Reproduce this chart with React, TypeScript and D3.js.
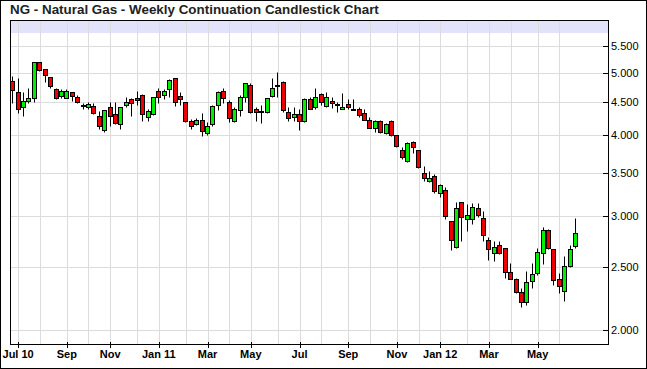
import React from "react";
import * as d3 from "d3";

// weekly bars, first week starts Mon 2010-06-28
const firstWeek = "2010-06-28";

const opens = [
  4.86, 4.66, 4.42, 4.52, 4.56, 5.19, 5.06, 4.92, 4.71, 4.6, 4.57, 4.66, 4.59, 4.44, 4.42,
  4.44, 4.29, 4.08, 4.43, 4.31, 4.17, 4.45, 4.55, 4.56, 4.62, 4.27, 4.31, 4.68, 4.61, 4.71,
  4.9, 4.6, 4.5, 4.21, 4.16, 4.22, 4.03, 4.17, 4.45, 4.68, 4.51, 4.21, 4.38, 4.58, 4.78,
  4.39, 4.35, 4.34, 4.6, 4.79, 4.84, 4.34, 4.27, 4.32, 4.21, 4.55, 4.42, 4.63, 4.44, 4.52,
  4.46, 4.4, 4.47, 4.4, 4.4, 4.33, 4.22, 4.11, 4.21, 4.04, 4.21, 4.0, 3.8, 3.65, 3.9,
  3.79, 3.5, 3.4, 3.46, 3.26, 3.29, 2.95, 2.69, 3.15, 2.97, 2.97, 3.09, 2.98, 2.76, 2.63,
  2.71, 2.68, 2.46, 2.4, 2.29, 2.21, 2.38, 2.45, 2.63, 2.86, 2.67, 2.4, 2.3, 2.51, 2.7,
];
const highs = [
  4.94, 4.9, 4.66, 4.73, 5.2, 5.2, 5.07, 4.93, 4.73, 4.71, 4.71, 4.67, 4.61, 4.48, 4.51,
  4.48, 4.36, 4.38, 4.51, 4.5, 4.43, 4.59, 4.57, 4.69, 4.63, 4.39, 4.58, 4.73, 4.72, 4.88,
  4.91, 4.66, 4.5, 4.24, 4.25, 4.33, 4.2, 4.45, 4.69, 4.73, 4.53, 4.42, 4.61, 4.82, 4.81,
  4.42, 4.45, 4.57, 4.9, 5.01, 4.85, 4.43, 4.43, 4.4, 4.56, 4.58, 4.73, 4.65, 4.67, 4.58,
  4.51, 4.65, 4.55, 4.55, 4.43, 4.39, 4.27, 4.22, 4.22, 4.18, 4.22, 4.01, 3.83, 3.9, 3.92,
  3.8, 3.58, 3.52, 3.49, 3.36, 3.33, 2.95, 3.16, 3.16, 3.13, 3.14, 3.14, 3.05, 2.78, 2.75,
  2.75, 2.68, 2.54, 2.41, 2.32, 2.47, 2.54, 2.68, 2.89, 2.87, 2.67, 2.45, 2.6, 2.71, 2.98,
];
const lows = [
  4.48, 4.33, 4.29, 4.48, 4.51, 5.03, 4.84, 4.74, 4.55, 4.57, 4.56, 4.52, 4.48, 4.39, 4.39,
  4.31, 4.09, 4.05, 4.13, 4.16, 4.09, 4.43, 4.29, 4.45, 4.21, 4.21, 4.3, 4.48, 4.55, 4.59,
  4.44, 4.45, 4.2, 4.09, 4.15, 3.99, 4.0, 4.13, 4.38, 4.48, 4.2, 4.2, 4.28, 4.51, 4.33,
  4.21, 4.18, 4.33, 4.58, 4.58, 4.35, 4.21, 4.21, 4.07, 4.2, 4.39, 4.39, 4.45, 4.43, 4.41,
  4.35, 4.39, 4.4, 4.38, 4.27, 4.22, 4.1, 4.05, 4.03, 4.02, 3.99, 3.83, 3.67, 3.64, 3.76,
  3.56, 3.4, 3.39, 3.26, 3.21, 2.97, 2.66, 2.68, 2.75, 2.85, 2.92, 2.99, 2.75, 2.57, 2.56,
  2.62, 2.41, 2.4, 2.28, 2.17, 2.19, 2.32, 2.43, 2.53, 2.67, 2.35, 2.28, 2.22, 2.5, 2.68,
];
const closes = [
  4.7, 4.4, 4.52, 4.57, 5.19, 5.05, 4.95, 4.76, 4.57, 4.68, 4.68, 4.6, 4.5, 4.45, 4.47,
  4.33, 4.13, 4.37, 4.29, 4.18, 4.42, 4.5, 4.48, 4.54, 4.31, 4.36, 4.58, 4.59, 4.68, 4.87,
  4.51, 4.55, 4.21, 4.13, 4.23, 4.06, 4.13, 4.44, 4.67, 4.56, 4.25, 4.39, 4.58, 4.81, 4.34,
  4.35, 4.36, 4.56, 4.74, 4.79, 4.37, 4.25, 4.31, 4.21, 4.55, 4.4, 4.59, 4.5, 4.58, 4.48,
  4.47, 4.43, 4.42, 4.39, 4.3, 4.23, 4.11, 4.21, 4.05, 4.16, 4.0, 3.85, 3.7, 3.89, 3.83,
  3.57, 3.43, 3.44, 3.28, 3.35, 3.0, 2.76, 3.09, 2.99, 3.01, 3.1, 3.01, 2.8, 2.67, 2.69,
  2.63, 2.46, 2.4, 2.29, 2.21, 2.37, 2.44, 2.64, 2.86, 2.68, 2.39, 2.34, 2.51, 2.67, 2.82,
];

const yTicks = [2, 2.5, 3, 3.5, 4, 4.5, 5, 5.5];
const monthLabels: Record<string, string> = {
  "2010-07": "Jul 10", "2010-09": "Sep", "2010-11": "Nov", "2011-01": "Jan 11",
  "2011-03": "Mar", "2011-05": "May", "2011-07": "Jul", "2011-09": "Sep",
  "2011-11": "Nov", "2012-01": "Jan 12", "2012-03": "Mar", "2012-05": "May",
};

const W = 647;
const H = 369;
const plot = { left: 10, top: 20, right: 608, bottom: 345 };

export default function App() {
  const start = d3.timeParse("%Y-%m-%d")(firstWeek) as Date;
  const weeks = d3.timeMonday.range(start, d3.timeMonday.offset(start, opens.length));

  const x = d3.scaleLinear().domain([-0.5, 110]).range([plot.left, plot.right]);
  const y = d3.scaleLog().domain([1.896, 6.03]).range([plot.bottom, plot.top]);

  // first bar of every month gets a gridline
  const fmt = d3.timeFormat("%Y-%m");
  const months: { i: number; key: string }[] = [];
  weeks.forEach((w, i) => {
    if (i === 0) return;
    if (fmt(w) !== fmt(weeks[i - 1])) months.push({ i, key: fmt(w) });
  });

  const crisp = (v: number) => Math.round(v) + 0.5;

  return (
    <svg
      width={W}
      height={H}
      style={{ position: "absolute", left: 0, top: 0, background: "#fff" }}
      fontFamily="'Liberation Sans', Arial, sans-serif"
    >
      <rect x={0.5} y={0.5} width={W - 1} height={H - 1} fill="#fff" stroke="#000" />
      <text x={10} y={14} fontSize={13.4} fontWeight="bold" fill="#222">
        NG - Natural Gas - Weekly Continuation Candlestick Chart
      </text>

      <rect x={plot.left} y={plot.top} width={plot.right - plot.left} height={13} fill="#e2e2fb" />

      {/* grid */}
      {yTicks.map((t) => (
        <line key={"gy" + t} x1={plot.left} x2={plot.right} y1={crisp(y(t))} y2={crisp(y(t))} stroke="#dcdcdc" />
      ))}
      {months.map((m) => (
        <line key={"gx" + m.key} x1={crisp(x(m.i))} x2={crisp(x(m.i))} y1={plot.top} y2={plot.bottom} stroke="#dcdcdc" />
      ))}

      {/* candles */}
      {opens.map((o, i) => {
        const c = closes[i];
        const cx = x(i);
        const left = Math.round(cx - 2.5) + 0.5;
        const top = crisp(y(Math.max(o, c)));
        const bot = crisp(y(Math.min(o, c)));
        return (
          <g key={i}>
            <line x1={left + 2} x2={left + 2} y1={crisp(y(highs[i]))} y2={crisp(y(lows[i]))} stroke="#000" />
            <rect
              x={left}
              y={top}
              width={4}
              height={Math.max(bot - top, 1)}
              fill={c >= o ? "#00ee00" : "#ee0000"}
              stroke="#000"
            />
          </g>
        );
      })}

      {/* frame */}
      <rect
        x={plot.left + 0.5}
        y={plot.top + 0.5}
        width={plot.right - plot.left}
        height={plot.bottom - plot.top - 1}
        fill="none"
        stroke="#000"
      />

      {/* y axis, right */}
      {yTicks.map((t) => (
        <g key={"ty" + t}>
          <line x1={plot.right - 5} x2={plot.right + 1} y1={crisp(y(t))} y2={crisp(y(t))} stroke="#000" />
          <text x={plot.right + 3} y={y(t) + 4} fontSize={11} fill="#000">
            {d3.format(".3f")(t)}
          </text>
        </g>
      ))}

      {/* x axis */}
      {months
        .filter((m) => monthLabels[m.key])
        .map((m) => (
          <g key={"tx" + m.key}>
            <line x1={crisp(x(m.i))} x2={crisp(x(m.i))} y1={plot.bottom - 3} y2={plot.bottom + 3} stroke="#000" />
            <text x={x(m.i)} y={358} fontSize={11} fontWeight="bold" textAnchor="middle" fill="#000">
              {monthLabels[m.key]}
            </text>
          </g>
        ))}
    </svg>
  );
}
